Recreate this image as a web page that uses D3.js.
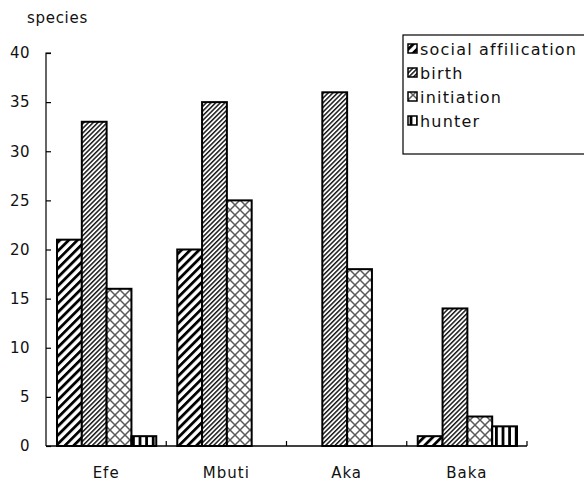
<!DOCTYPE html>
<html>
<head>
<meta charset="utf-8">
<script src="https://cdn.jsdelivr.net/npm/d3@7"></script>
<style>
  body { margin: 0; background: #fff; }
  svg { display: block; }
  text { font-family: "DejaVu Sans", sans-serif; fill: #111; }
</style>
</head>
<body>
<svg id="chart" width="584" height="481"></svg>
<script>
// Number of species by category and group
const groups = ["Efe", "Mbuti", "Aka", "Baka"];
const seriesNames = ["social affilication", "birth", "initiation", "hunter"];
const socialAffilication = [21, 20, 0, 1];
const birth = [33, 35, 36, 14];
const initiation = [16, 25, 18, 3];
const hunter = [1, 0, 0, 2];
const yTicks = [0, 5, 10, 15, 20, 25, 30, 35, 40];
const yLabel = "species";

const seriesValues = [socialAffilication, birth, initiation, hunter];

const svg = d3.select("#chart");
const margin = { left: 46, right: 57, top: 53, bottom: 35 };
const W = 584, H = 481;

const x = d3.scaleBand().domain(groups).range([margin.left, W - margin.right]);
const groupPad = 11;
const xInner = d3.scaleBand().domain(seriesNames).range([groupPad, x.bandwidth() - groupPad + 1]);
const y = d3.scaleLinear().domain([0, 40]).range([H - margin.bottom, margin.top]);

// Fill patterns
const defs = svg.append("defs");
function stripePattern(id, size, width, color, angle) {
  const p = defs.append("pattern").attr("id", id).attr("patternUnits", "userSpaceOnUse")
    .attr("width", size).attr("height", size).attr("patternTransform", `rotate(${angle})`);
  p.append("rect").attr("width", size).attr("height", size).attr("fill", "#fff");
  p.append("rect").attr("x", 0).attr("y", 0).attr("width", width).attr("height", size).attr("fill", color);
}
stripePattern("pat-social", 6.2, 2.8, "#000", 45);
stripePattern("pat-birth", 3.3, 1.5, "#1a1a1a", 45);
stripePattern("pat-hunter", 6.6, 2.8, "#000", 0);
{
  const s = 10;
  const p = defs.append("pattern").attr("id", "pat-initiation").attr("patternUnits", "userSpaceOnUse")
    .attr("width", s).attr("height", s);
  p.append("rect").attr("width", s).attr("height", s).attr("fill", "#fff");
  p.append("path").attr("d", `M0,0L${s},${s}M${s},0L0,${s}`).attr("stroke", "#5a5a5a").attr("stroke-width", 1.5);
}
const patterns = ["url(#pat-social)", "url(#pat-birth)", "url(#pat-initiation)", "url(#pat-hunter)"];

// Bars
const data = [];
groups.forEach((g, gi) => {
  seriesNames.forEach((s, si) => {
    const v = seriesValues[si][gi];
    if (v > 0) data.push({ g, s, si, v });
  });
});
svg.append("g").selectAll("rect").data(data).join("rect")
  .attr("x", d => x(d.g) + xInner(d.s))
  .attr("y", d => y(d.v))
  .attr("width", xInner.bandwidth())
  .attr("height", d => y(0) - y(d.v))
  .attr("fill", d => patterns[d.si])
  .attr("stroke", "#000")
  .attr("stroke-width", 2);

// Y axis, ticks pointing inward
const yAxis = svg.append("g").attr("transform", `translate(${margin.left},0)`)
  .call(d3.axisRight(y).tickValues(yTicks).tickSize(5).tickFormat(""));
yAxis.select(".domain").attr("d", `M5,${y(40)}H0V${y(0)}`).attr("stroke", "#000").attr("stroke-width", 1.2);
yAxis.selectAll(".tick line").attr("stroke", "#000").attr("stroke-width", 1.2);
svg.append("g").selectAll("text").data(yTicks).join("text")
  .attr("x", 30).attr("y", d => y(d)).attr("dy", "0.35em")
  .attr("text-anchor", "end").style("font-size", "15px").style("letter-spacing", "0.5px")
  .text(d => d);
svg.append("text").attr("x", 27).attr("y", 23).style("font-size", "15px")
  .style("letter-spacing", "0.7px").text(yLabel);

// X axis with upward category-boundary ticks
const xg = svg.append("g").attr("transform", `translate(0,${y(0)})`);
xg.append("line").attr("x1", margin.left).attr("x2", W - margin.right)
  .attr("stroke", "#000").attr("stroke-width", 1.5);
xg.selectAll("line.tk").data(groups).join("line").attr("class", "tk")
  .attr("x1", d => x(d) + x.bandwidth()).attr("x2", d => x(d) + x.bandwidth())
  .attr("y1", 0).attr("y2", -5).attr("stroke", "#000").attr("stroke-width", 1.2);
xg.selectAll("text").data(groups).join("text")
  .attr("x", d => x(d) + x.bandwidth() / 2).attr("y", 32)
  .attr("text-anchor", "middle").style("font-size", "15px").style("letter-spacing", "1px")
  .text(d => d);

// Legend
const lg = svg.append("g").attr("transform", "translate(403,35)");
lg.append("rect").attr("x", 0).attr("y", 0).attr("width", 200).attr("height", 119)
  .attr("fill", "#fff").attr("stroke", "#000").attr("stroke-width", 1.2);
seriesNames.forEach((s, i) => {
  const cy = 14 + i * 24;
  lg.append("rect").attr("x", 5).attr("y", cy - 5).attr("width", 9).attr("height", 9)
    .attr("fill", patterns[i]).attr("stroke", "#000").attr("stroke-width", 1.5);
  lg.append("text").attr("x", 17).attr("y", cy).attr("dy", "0.35em")
    .style("font-size", "16px").style("letter-spacing", "1.2px").text(s);
});
</script>
</body>
</html>
